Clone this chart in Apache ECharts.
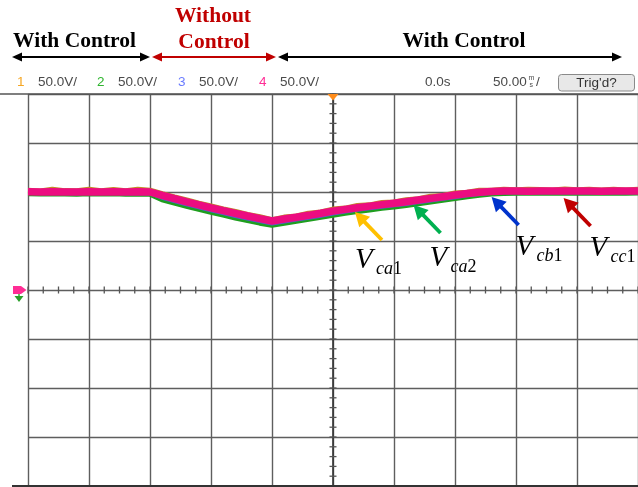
<!DOCTYPE html>
<html>
<head>
<meta charset="utf-8">
<script src="https://cdn.jsdelivr.net/npm/echarts@6/dist/echarts.min.js"></script>
<style>
  html, body { margin: 0; padding: 0; background: #fff; }
  #scope { width: 638px; height: 487px; }
</style>
</head>
<body>
<div id="scope"></div>
<script>
// Sample times (ms) across the 10-division, 50 ms/div screen
const timeMs = [-250, -240, -230, -220, -210, -200, -190, -180, -170, -160, -150,
                -140, -130, -120, -110, -100, -90, -80, -70, -60, -50,
                -40, -30, -20, -10, 0, 10, 20, 30, 40, 50,
                60, 70, 80, 90, 100, 110, 120, 130, 140, 150,
                160, 170, 180, 190, 200, 210, 220, 230, 240, 250];

// Channel 1 (Vca1), volts
const ch1 = [101.4, 100.6, 102.3, 100.9, 100.7, 102.4, 100.8, 102.1, 100.7, 102.3, 101.4,
             97.9, 94.6, 91.4, 88.0, 85.2, 82.2, 79.6, 76.6, 74.2, 71.3,
             73.9, 75.1, 77.8, 79.1, 82.1, 83.1, 85.7, 86.4, 88.8, 89.4,
             91.6, 92.6, 95.1, 96.0, 98.5, 99.3, 101.4, 101.4, 102.4, 101.8,
             102.3, 102.1, 101.6, 102.5, 101.7, 102.4, 101.5, 102.3, 101.6, 102.2];
// Channel 2 (Vca2), volts
const ch2 = [98.6, 98.4, 98.8, 98.5, 98.3, 98.7, 98.4, 98.6, 98.3, 98.5, 98.2,
             92.6, 89.2, 85.9, 82.8, 79.8, 76.9, 74.0, 71.3, 68.7, 66.6,
             68.5, 70.6, 72.6, 74.7, 76.8, 78.8, 80.6, 82.2, 83.8, 85.3,
             86.8, 88.6, 90.3, 92.0, 93.8, 95.6, 97.2, 98.4, 99.0, 99.3,
             99.2, 99.5, 99.3, 99.4, 99.2, 99.5, 99.3, 99.4, 99.2, 99.4];
// Channel 3 (Vcb1), volts
const ch3 = [99.4, 99.2, 99.6, 99.3, 99.1, 99.5, 99.2, 99.4, 99.1, 99.3, 99.0,
             94.4, 91.0, 87.7, 84.6, 81.6, 78.7, 75.8, 73.1, 70.5, 68.2,
             70.2, 72.1, 74.0, 76.1, 78.3, 80.3, 82.0, 83.6, 85.2, 86.7,
             88.1, 89.9, 91.6, 93.3, 95.0, 96.8, 98.3, 99.4, 99.9, 100.1,
             99.9, 100.2, 100.0, 100.1, 99.9, 100.2, 100.0, 100.1, 99.9, 100.1];
// Channel 4 (Vcc1), volts
const ch4 = [100.2, 100.0, 100.3, 100.1, 100.0, 100.2, 100.1, 100.3, 100.0, 100.2, 100.0,
             96.6, 93.3, 90.0, 86.9, 83.9, 81.0, 78.2, 75.5, 72.9, 70.4,
             72.4, 74.3, 76.2, 78.3, 80.5, 82.3, 84.0, 85.6, 87.1, 88.6,
             90.0, 91.8, 93.5, 95.2, 96.9, 98.5, 99.8, 100.6, 100.9, 101.0,
             100.8, 101.0, 100.9, 101.1, 100.9, 101.0, 100.8, 101.0, 100.9, 101.0];

// Channel header labels
const channelIds = ['1', '2', '3', '4'];
const channelScale = ['50.0V/', '50.0V/', '50.0V/', '50.0V/'];
const timeOffset = '0.0s';
const timeScale = '50.00';

// Callout targets (time ms, volts) and their labels
const calloutSub = ['ca', 'ca', 'cb', 'cc'];
const calloutIdx = ['1', '2', '1', '1'];
const calloutAt = [[18, 79.6], [66, 86.7], [130, 94.9], [189, 93.9]];

const COLORS = { c1: '#c08a2a', c2: '#1f9e1f', c3: '#4a62d8', c4: '#ec0c80' };
const HEAD = { c1: '#f5a623', c2: '#2fb52f', c3: '#6b7cff', c4: '#ff2d95' };
const ARROW = ['#ffc000', '#00b050', '#0033cc', '#c00000'];

const chart = echarts.init(document.getElementById('scope'), null, { renderer: 'canvas' });

const pairs = arr => timeMs.map((t, i) => [t, arr[i]]);

// Minor ticks on the centre crosshair (4 per time division, 5 per volt division)
const crossTicks = [];
for (let t = -250; t <= 250; t += 12.5) crossTicks.push([t, 0, 'h']);
for (let v = -200; v <= 200; v += 10) crossTicks.push([0, v, 'v']);

const gridLine = { show: true, lineStyle: { color: '#5e5e5e', width: 1.4 } };

const option = {
  animation: false,
  backgroundColor: '#ffffff',
  grid: { left: 28, top: 94, width: 613.3, height: 392, containLabel: false },
  xAxis: {
    type: 'value', min: -250, max: 250, interval: 50,
    axisLabel: { show: false }, axisTick: { show: false }, axisLine: { show: false },
    splitLine: gridLine
  },
  yAxis: {
    type: 'value', min: -200, max: 200, interval: 50,
    axisLabel: { show: false }, axisTick: { show: false },
    axisLine: { show: true, lineStyle: { color: '#333', width: 1.6 } },
    splitLine: gridLine
  },
  series: [
    {
      type: 'custom', data: crossTicks, z: 1, silent: true,
      renderItem: (params, api) => {
        const p = api.coord([api.value(0), api.value(1)]);
        const horiz = crossTicks[params.dataIndex][2] === 'h';
        return {
          type: 'line',
          shape: horiz ? { x1: p[0], y1: p[1] - 3.5, x2: p[0], y2: p[1] + 3.5 }
                       : { x1: p[0] - 3.5, y1: p[1], x2: p[0] + 3.5, y2: p[1] },
          style: { stroke: '#555', lineWidth: 1.3 }
        };
      }
    },
    { name: '1', type: 'line', data: pairs(ch1), showSymbol: false, z: 2,
      lineStyle: { width: 6, color: COLORS.c1 } },
    { name: '2', type: 'line', data: pairs(ch2), showSymbol: false, z: 3,
      lineStyle: { width: 6, color: COLORS.c2 } },
    { name: '3', type: 'line', data: pairs(ch3), showSymbol: false, z: 4,
      lineStyle: { width: 4.5, color: COLORS.c3 } },
    { name: '4', type: 'line', data: pairs(ch4), showSymbol: false, z: 5,
      lineStyle: { width: 7.5, color: COLORS.c4 } }
  ]
};
chart.setOption(option);

// ---------- overlay graphics ----------
const g = [];
const serif = 'Liberation Serif, Times New Roman, serif';
const sans = 'Liberation Sans, Arial, sans-serif';

function text(x, y, str, font, fill, align, valign, z) {
  g.push({ type: 'text', z: z || 10, style: { x, y, text: str, font, fill,
    textAlign: align || 'left', textVerticalAlign: valign || 'middle' } });
}

// double-headed horizontal arrow
function dArrow(x1, x2, y, color) {
  const L = 10, W = 4.5;
  g.push({ type: 'line', z: 10, shape: { x1: x1 + L - 1, y1: y, x2: x2 - L + 1, y2: y },
    style: { stroke: color, lineWidth: 2.2 } });
  g.push({ type: 'polygon', z: 10, shape: { points: [[x1, y], [x1 + L, y - W], [x1 + L, y + W]] },
    style: { fill: color } });
  g.push({ type: 'polygon', z: 10, shape: { points: [[x2, y], [x2 - L, y - W], [x2 - L, y + W]] },
    style: { fill: color } });
}

// Mode banner
const bold = 'bold 21.5px ' + serif;
text(74.5, 41, 'With Control', bold, '#000', 'center');
text(213, 16, 'Without', bold, '#c00000', 'center');
text(214, 42, 'Control', bold, '#c00000', 'center');
text(464, 41, 'With Control', bold, '#000', 'center');
dArrow(12, 150, 57, '#000');
dArrow(152, 276, 57, '#c00000');
dArrow(278, 622, 57, '#000');

// Scope header row
const hdr = '13.5px ' + sans;
const idX = [17, 97, 178, 259];
const scX = [38, 118, 199, 280];
const idCol = [HEAD.c1, HEAD.c2, HEAD.c3, HEAD.c4];
channelIds.forEach((id, i) => {
  text(idX[i], 82, id, hdr, idCol[i]);
  text(scX[i], 82, channelScale[i], hdr, '#4a4a4a');
});
text(425, 82, timeOffset, hdr, '#4a4a4a');
text(493, 82, timeScale, hdr, '#4a4a4a');
text(528.5, 78.5, 'm', '7px ' + sans, '#4a4a4a');
text(529.5, 85, 's', '7px ' + sans, '#4a4a4a');
text(536, 82, '/', hdr, '#4a4a4a');
g.push({ type: 'rect', z: 10, shape: { x: 558.5, y: 74.5, width: 76, height: 16.5, r: 3 },
  style: { fill: '#e8e8e8', stroke: '#8a8a8a', lineWidth: 1 } });
text(596.5, 83, "Trig'd?", hdr, '#333', 'center');

// Screen frame extensions
g.push({ type: 'line', z: 6, shape: { x1: 0, y1: 94, x2: 638, y2: 94 },
  style: { stroke: '#555', lineWidth: 1.6 } });
g.push({ type: 'line', z: 6, shape: { x1: 12, y1: 486, x2: 638, y2: 486 },
  style: { stroke: '#333', lineWidth: 1.8 } });

// Trigger position marker
const trig = chart.convertToPixel({ gridIndex: 0 }, [0, 200]);
g.push({ type: 'polygon', z: 11, shape: { points: [[trig[0] - 5.5, 94], [trig[0] + 5.5, 94], [trig[0], 100.5]] },
  style: { fill: '#ff8c1a' } });

// Ground reference marker
const gnd = chart.convertToPixel({ gridIndex: 0 }, [-250, 0]);
const gy = gnd[1];
g.push({ type: 'polygon', z: 11, shape: { points: [[13, gy - 4], [21, gy - 4], [26.5, gy], [21, gy + 4], [13, gy + 4]] },
  style: { fill: HEAD.c4 } });
text(13.5, gy - 1.5, '4', 'bold 8px ' + sans, HEAD.c3);
g.push({ type: 'line', z: 11, shape: { x1: 19, y1: gy + 4, x2: 19, y2: gy + 6 }, style: { stroke: HEAD.c2, lineWidth: 1.5 } });
g.push({ type: 'polygon', z: 11, shape: { points: [[14.5, gy + 6], [23.5, gy + 6], [19, gy + 12]] },
  style: { fill: '#2aa02a' } });

// Callouts: arrow pointing at each trace, with subscripted label
const tailOff = [27, 28];
const labelOff = [[-27, 35], [-11, 40], [-3, 37], [-1, 37]];
calloutAt.forEach((pt, i) => {
  const head = chart.convertToPixel({ gridIndex: 0 }, pt);
  const tail = [head[0] + tailOff[0], head[1] + tailOff[1]];
  const dx = head[0] - tail[0], dy = head[1] - tail[1];
  const len = Math.hypot(dx, dy), ux = dx / len, uy = dy / len;
  const L = 14, W = 7.5;
  const bx = head[0] - ux * L, by = head[1] - uy * L;
  g.push({ type: 'line', z: 12, shape: { x1: tail[0], y1: tail[1], x2: bx + ux, y2: by + uy },
    style: { stroke: ARROW[i], lineWidth: 3.8 } });
  g.push({ type: 'polygon', z: 12, shape: { points: [[head[0], head[1]],
      [bx - uy * W, by + ux * W], [bx + uy * W, by - ux * W]] }, style: { fill: ARROW[i] } });
  const lx = tail[0] + labelOff[i][0], ly = tail[1] + labelOff[i][1];
  g.push({ type: 'text', z: 12, style: { x: lx, y: ly, text: 'V', font: 'italic 29px ' + serif,
    fill: '#000', textVerticalAlign: 'bottom' } });
  g.push({ type: 'text', z: 12, style: { x: lx + 21, y: ly + 3,
    text: '{i|' + calloutSub[i] + '}{n|' + calloutIdx[i] + '}',
    textVerticalAlign: 'bottom',
    rich: { i: { fontStyle: 'italic', fontSize: 18, fontFamily: serif, fill: '#000' },
            n: { fontSize: 18, fontFamily: serif, fill: '#000' } } } });
});

chart.setOption({ graphic: g });
</script>
</body>
</html>
